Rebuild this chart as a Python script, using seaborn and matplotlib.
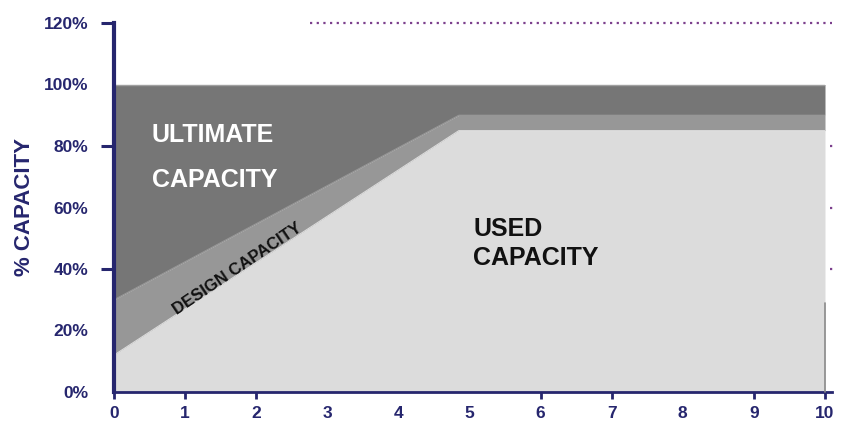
import matplotlib
matplotlib.use("Agg")
import matplotlib.pyplot as plt
import seaborn as sns
import pandas as pd

# Capacity profile over time (years)
years = [0, 4.85, 10]
ultimate_capacity = [100, 100, 100]
design_capacity = [30, 90, 90]
used_capacity = [12, 85, 85]

x_ticks = [0, 1, 2, 3, 4, 5, 6, 7, 8, 9, 10]
y_ticks = [0, 20, 40, 60, 80, 100, 120]
y_tick_labels = ["0%", "20%", "40%", "60%", "80%", "100%", "120%"]

NAVY = "#26266e"
DARK = "#767676"
MID = "#979797"
LIGHT = "#dcdcdc"
PURPLE = "#7b3f8c"

sns.set_theme(style="white")
plt.rcParams["font.family"] = ["Liberation Sans", "DejaVu Sans"]

df = pd.DataFrame({
    "year": years,
    "ultimate": ultimate_capacity,
    "design": design_capacity,
    "used": used_capacity,
})

fig = plt.figure(figsize=(8.44, 4.30), dpi=100)
ax = fig.add_axes([114 / 844, 38 / 430, 711 / 844, 369 / 430])

# Stacked bands: ultimate above design above used
ax.fill_between(df["year"], df["design"], df["ultimate"], color=DARK, linewidth=0, zorder=1)
ax.fill_between(df["year"], df["used"], df["design"], color=MID, linewidth=0, zorder=1)
ax.fill_between(df["year"], 0, df["used"], color=LIGHT, linewidth=0, zorder=1)

sns.lineplot(data=df, x="year", y="ultimate", color="#a0a0a0", linewidth=1.0, ax=ax, zorder=2)
sns.lineplot(data=df, x="year", y="design", color=MID, linewidth=0.8, ax=ax, zorder=2)
sns.lineplot(data=df, x="year", y="used", color=LIGHT, linewidth=0.8, ax=ax, zorder=2)

# Thin marker on the right edge
ax.plot([10, 10], [0, 29], color="#8a8a8a", linewidth=1.2, zorder=3, clip_on=False)

# Dotted reference line along the top and stubs on the right
ax.plot([2.75, 10.1], [120, 120], color=PURPLE, linewidth=1.6,
        linestyle=(0, (1, 2)), clip_on=False, zorder=3)
for yv in [80, 60, 40]:
    ax.plot([10.07, 10.14], [yv, yv], color=PURPLE, linewidth=1.6,
            linestyle=(0, (1, 1.5)), clip_on=False, zorder=3)

ax.set_xlim(0, 10)
ax.set_ylim(0, 120)

ax.set_xticks(x_ticks)
ax.set_xticklabels([str(t) for t in x_ticks], fontsize=12.5, fontweight="bold", color=NAVY)
ax.set_yticks(y_ticks)
ax.set_yticklabels(y_tick_labels, fontsize=12.5, fontweight="bold", color=NAVY)

ax.tick_params(axis="y", direction="out", length=9.5, width=2.2, color=NAVY, pad=9, left=True)
ax.tick_params(axis="x", direction="out", length=5, width=2, color=NAVY, pad=5, bottom=True)
for t, tk in zip(y_ticks, ax.yaxis.get_major_ticks()):
    if t not in (40, 80, 120):
        tk.tick1line.set_visible(False)
for t, tk in zip(x_ticks, ax.xaxis.get_major_ticks()):
    if t in (3, 4, 5, 8):
        tk.tick1line.set_visible(False)

ax.set_xlabel("")
ax.set_ylabel("% CAPACITY", fontsize=16, fontweight="bold", color=NAVY, labelpad=6)

for side in ["top", "right"]:
    ax.spines[side].set_visible(False)
ax.spines["left"].set_color(NAVY)
ax.spines["left"].set_linewidth(3)
ax.spines["bottom"].set_color(NAVY)
ax.spines["bottom"].set_linewidth(2)
ax.spines["bottom"].set_bounds(0, 10.1)

# Band labels
ax.text(0.53, 83.5, "ULTIMATE", color="white", fontsize=18, fontweight="bold",
        ha="left", va="center", zorder=4)
ax.text(0.53, 69, "CAPACITY", color="white", fontsize=18, fontweight="bold",
        ha="left", va="center", zorder=4)
ax.text(5.05, 53, "USED", color="#111111", fontsize=18, fontweight="bold",
        ha="left", va="center", zorder=4)
ax.text(5.05, 43.5, "CAPACITY", color="#111111", fontsize=18, fontweight="bold",
        ha="left", va="center", zorder=4)
ax.text(1.74, 40, "DESIGN CAPACITY", color="#111111", fontsize=12, fontweight="bold",
        ha="center", va="center", rotation=34, rotation_mode="anchor", zorder=4)

fig.savefig("out.png", dpi=100)
